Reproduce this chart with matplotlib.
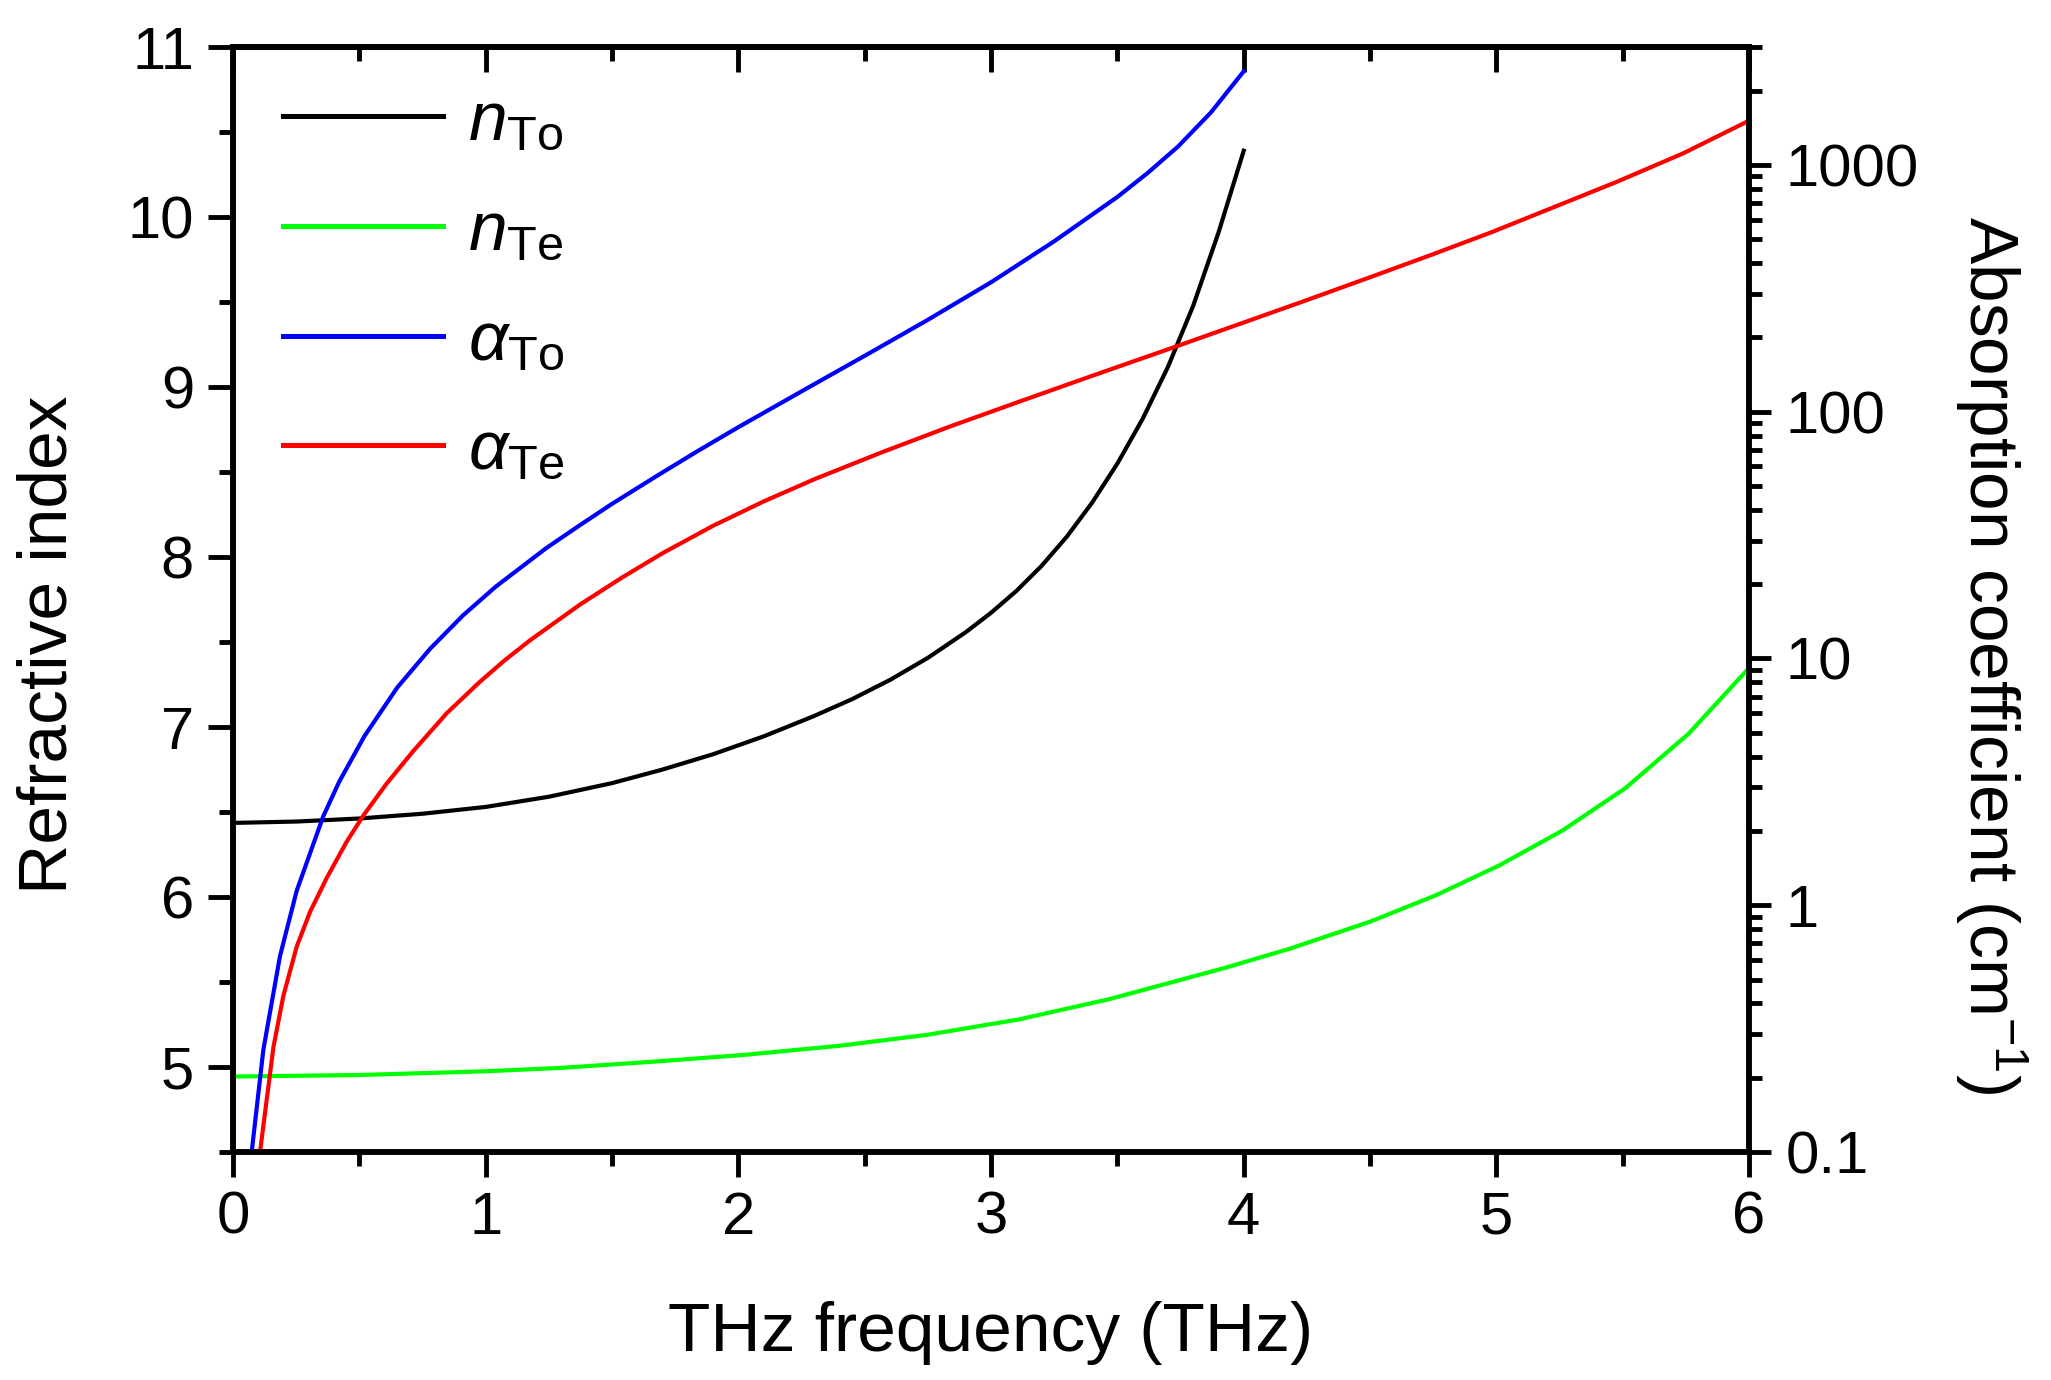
import numpy as np
import matplotlib
matplotlib.use("Agg")
import matplotlib.pyplot as plt
from matplotlib.ticker import MultipleLocator, LogLocator, FuncFormatter, NullFormatter

plt.rcParams['font.family'] = ['Liberation Sans', 'DejaVu Sans']
plt.rcParams['mathtext.fontset'] = 'custom'
plt.rcParams['mathtext.rm'] = 'Liberation Sans'
plt.rcParams['mathtext.it'] = 'Liberation Sans:italic'

# refractive index (left axis)
freq_n_to = [0, 0.25, 0.5, 0.75, 1.0, 1.25, 1.5, 1.7, 1.9, 2.1, 2.3, 2.45, 2.6, 2.75, 2.9, 3.0,
             3.1, 3.2, 3.3, 3.4, 3.5, 3.6, 3.7, 3.8, 3.9, 4.0]
n_to = [6.436, 6.444, 6.462, 6.49, 6.53, 6.59, 6.67, 6.75, 6.84, 6.945, 7.065, 7.164, 7.277, 7.407,
        7.558, 7.672, 7.80, 7.948, 8.12, 8.32, 8.55, 8.813, 9.118, 9.478, 9.908, 10.39]

freq_n_te = [0, 0.5, 1.0, 1.3, 1.65, 2.02, 2.4, 2.75, 3.11, 3.47, 3.93, 4.18, 4.5, 4.76, 5.01,
             5.26, 5.51, 5.76, 6.0]
n_te = [4.944, 4.953, 4.975, 4.995, 5.03, 5.071, 5.125, 5.19, 5.28, 5.40, 5.585, 5.695, 5.855, 6.01, 6.185,
        6.39, 6.64, 6.96, 7.348]

# absorption coefficient, cm^-1 (right axis, log)
freq_a_to = [0.074, 0.12, 0.186, 0.252, 0.357, 0.42, 0.52, 0.65, 0.78, 0.91, 1.04, 1.24, 1.37, 1.5,
             1.68, 1.84, 2.0, 2.3, 2.5, 2.75, 3.0, 3.25, 3.5, 3.62, 3.74, 3.87, 4.0]
a_to = [0.1, 0.259, 0.622, 1.143, 2.29, 3.16, 4.84, 7.62, 10.94, 14.93, 19.54, 28.0, 34.5, 42.3,
        55.1, 69.3, 86.5, 129.1, 168.3, 235.5, 334.2, 490, 741, 927, 1186, 1629, 2393]

freq_a_te = [0.107, 0.16, 0.199, 0.252, 0.305, 0.371, 0.45, 0.516, 0.608, 0.714, 0.846, 0.977, 1.075,
             1.175, 1.373, 1.54, 1.703, 1.901, 2.1, 2.303, 2.57, 2.833, 3.11, 3.392, 3.727, 4.223,
             4.507, 4.75, 4.981, 5.474, 5.74, 6.0]
a_te = [0.1, 0.266, 0.428, 0.679, 0.94, 1.29, 1.81, 2.31, 3.11, 4.22, 6.0, 8.04, 9.82,
        11.83, 16.52, 21.28, 26.79, 34.51, 43.25, 53.33, 68.55, 86.7, 109.6, 138.7, 182.8, 276.7,
        352.4, 434.5, 533.3, 851, 1114, 1510]

tick_fs = 43
label_fs = 50
lw = 3.0

fig = plt.figure(figsize=(20.51, 13.80), dpi=100)
fig.subplots_adjust(left=0.1136, right=0.8528, top=0.9659, bottom=0.1652)
ax = fig.add_subplot(111)
ax2 = ax.twinx()

l1, = ax.plot(freq_n_to, n_to, color='black', lw=lw, label=r'$n_{\mathrm{To}}$')
l2, = ax.plot(freq_n_te, n_te, color='#00ff00', lw=lw, label=r'$n_{\mathrm{Te}}$')
l3, = ax2.plot(freq_a_to, a_to, color='#0000ff', lw=lw, label=r'$\alpha_{\mathrm{To}}$')
l4, = ax2.plot(freq_a_te, a_te, color='#ff0000', lw=lw, label=r'$\alpha_{\mathrm{Te}}$')

ax.set_xlim(0, 6)
ax.set_ylim(4.5, 11)
ax2.set_yscale('log')
ax2.set_ylim(0.1, 3000)

ax.xaxis.set_major_locator(MultipleLocator(1))
ax.xaxis.set_minor_locator(MultipleLocator(0.5))
ax.yaxis.set_major_locator(MultipleLocator(1))
ax.yaxis.set_minor_locator(MultipleLocator(0.5))
ax2.yaxis.set_major_locator(LogLocator(base=10, numticks=10))
ax2.yaxis.set_minor_locator(LogLocator(base=10, subs=np.arange(2, 10), numticks=20))
ax2.yaxis.set_major_formatter(FuncFormatter(lambda v, p: '%g' % v))
ax2.yaxis.set_minor_formatter(NullFormatter())

for a in (ax, ax2):
    for s in a.spines.values():
        s.set_linewidth(4)

ax.tick_params(axis='both', which='major', direction='out', length=18, width=3.5,
               labelsize=tick_fs, pad=10, right=False, top=False)
ax.tick_params(axis='both', which='minor', direction='out', length=10, width=3.5,
               right=False, top=False)
ax2.tick_params(axis='y', which='major', direction='out', length=16, width=3.5,
                labelsize=tick_fs, pad=10)
ax2.tick_params(axis='y', which='minor', direction='out', length=9, width=3.5)

# top axis: ticks pointing inward, no labels
top = ax.secondary_xaxis('top')
top.xaxis.set_major_locator(MultipleLocator(1))
top.xaxis.set_minor_locator(MultipleLocator(0.5))
top.tick_params(axis='x', which='major', direction='in', length=18, width=3.5, labeltop=False)
top.tick_params(axis='x', which='minor', direction='in', length=10, width=3.5)
top.spines['top'].set_linewidth(4)

ax.set_xlabel('THz frequency (THz)', fontsize=label_fs, labelpad=40)
ax.set_ylabel('Refractive index', fontsize=label_fs, labelpad=34)
ax.yaxis.label.set_y(0.459)
ax2.set_ylabel(r'Absorption coefficient (cm$^{-1}$)', fontsize=label_fs,
               rotation=270, va='bottom', labelpad=25)
ax2.yaxis.label.set_y(0.45)

leg = ax2.legend(handles=[l1, l2, l3, l4], loc='upper left', bbox_to_anchor=(0.033, 0.961),
                 frameon=False, fontsize=50, handlelength=2.3, handletextpad=0.37,
                 labelspacing=0.66, borderpad=0, borderaxespad=0)
for h in leg.legend_handles:
    h.set_linewidth(3.6)

fig.savefig('out.png', dpi=100)
